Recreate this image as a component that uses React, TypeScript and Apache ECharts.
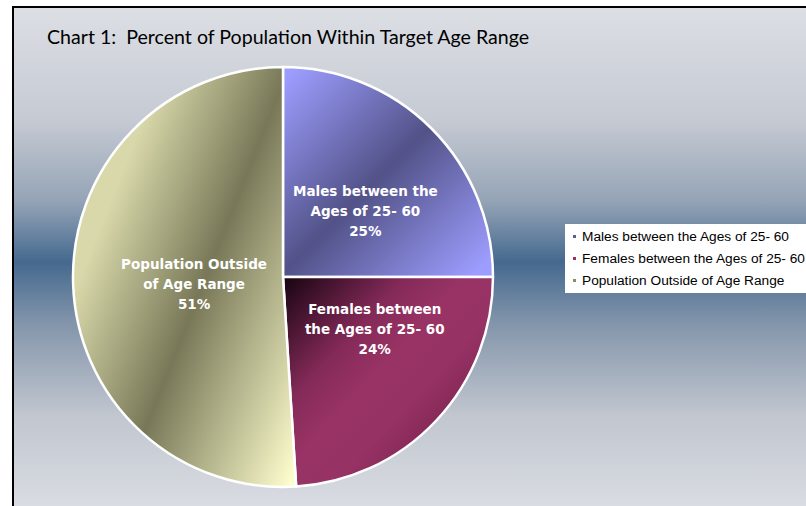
import React, { useEffect, useRef } from 'react';
import * as echarts from 'echarts';

const titleText = 'Chart 1:  Percent of Population Within Target Age Range';
const categories = [
  'Males between the Ages of 25- 60',
  'Females between the Ages of 25- 60',
  'Population Outside of Age Range',
];
const labelNames = [
  'Males between the\nAges of 25- 60',
  'Females between\nthe Ages of 25- 60',
  'Population Outside\nof Age Range',
];
const values = [25, 24, 51];
const legendColors = ['#5b5ba0', '#9e3060', '#8a8a6c'];
const labelShift = [
  [6, 10],
  [13, -22],
  [19, 4],
];

const sliceFills = [
  {
    type: 'linear', global: true, x: 261, y: 101, x2: 455, y2: 295,
    colorStops: [
      { offset: 0, color: '#9d9dff' },
      { offset: 0.5, color: '#525288' },
      { offset: 1, color: '#9d9dff' },
    ],
  },
  {
    type: 'linear', global: true, x: 283, y: 277, x2: 502, y2: 481,
    colorStops: [
      { offset: 0, color: '#160410' },
      { offset: 0.3, color: '#842a58' },
      { offset: 0.45, color: '#993366' },
      { offset: 0.6, color: '#963264' },
      { offset: 0.78, color: '#7c2450' },
      { offset: 1, color: '#6a1c44' },
    ],
  },
  {
    type: 'linear', global: true, x: 99, y: 230, x2: 351, y2: 330,
    colorStops: [
      { offset: 0, color: '#d8d8aa' },
      { offset: 0.43, color: '#787858' },
      { offset: 1, color: '#fcfccc' },
    ],
  },
];

export default function App() {
  const ref = useRef<HTMLDivElement>(null);
  useEffect(() => {
    if (!ref.current) return;
    const chart = echarts.init(ref.current, undefined, { renderer: 'svg' });
    chart.setOption({
      animation: false,
      graphic: [
        {
          type: 'rect',
          z: -10,
          silent: true,
          shape: { x: 13, y: 7, width: 810, height: 510 },
          style: {
            fill: {
              type: 'linear', x: 0, y: 0, x2: 0, y2: 1,
              colorStops: [
                { offset: 0, color: '#dcdfe4' },
                { offset: 0.22, color: '#c6cad3' },
                { offset: 0.38, color: '#95a4b6' },
                { offset: 0.5, color: '#45698f' },
                { offset: 0.62, color: '#8395ab' },
                { offset: 0.8, color: '#c1c6cf' },
                { offset: 1, color: '#dcdfe4' },
              ],
            },
            stroke: '#000',
            lineWidth: 2,
          },
        },
      ],
      title: {
        text: titleText,
        left: 47,
        top: 26,
        padding: 0,
        textStyle: { fontFamily: 'Lato', fontSize: 19.6, fontWeight: 'normal', color: '#000' },
      },
      legend: {
        orient: 'vertical',
        left: 565,
        top: 224,
        padding: [5, 40, 5, 6],
        backgroundColor: '#ffffff',
        icon: 'rect',
        itemWidth: 5,
        itemHeight: 5,
        itemGap: 7,
        itemTextGap: 9,
        textStyle: { fontFamily: 'Liberation Sans', fontSize: 13.7, color: '#000', lineHeight: 15 },
        data: categories.map((c, i) => ({ name: c, itemStyle: { color: legendColors[i] } })),
      },
      series: [
        {
          type: 'pie',
          center: [283, 277],
          radius: 210,
          startAngle: 90,
          clockwise: true,
          avoidLabelOverlap: false,
          itemStyle: { borderColor: '#ffffff', borderWidth: 2.5 },
          label: {
            show: true,
            position: 'inside',
            color: '#ffffff',
            fontFamily: 'DejaVu Sans',
            fontWeight: 'bold',
            fontSize: 13.5,
            lineHeight: 20,
            align: 'center',
            formatter: (p: any) => labelNames[p.dataIndex] + '\n' + Math.round(p.percent) + '%',
          },
          labelLine: { show: false },
          labelLayout: (p: any) => ({ dx: labelShift[p.dataIndex][0], dy: labelShift[p.dataIndex][1] }),
          emphasis: { disabled: true },
          data: categories.map((c, i) => ({
            name: c,
            value: values[i],
            itemStyle: { color: sliceFills[i] },
          })),
        },
      ],
    });
    return () => chart.dispose();
  }, []);
  return (
    <div
      ref={ref}
      style={{ position: 'fixed', left: 0, top: 0, width: 806, height: 506, overflow: 'hidden', background: '#fff' }}
    />
  );
}
